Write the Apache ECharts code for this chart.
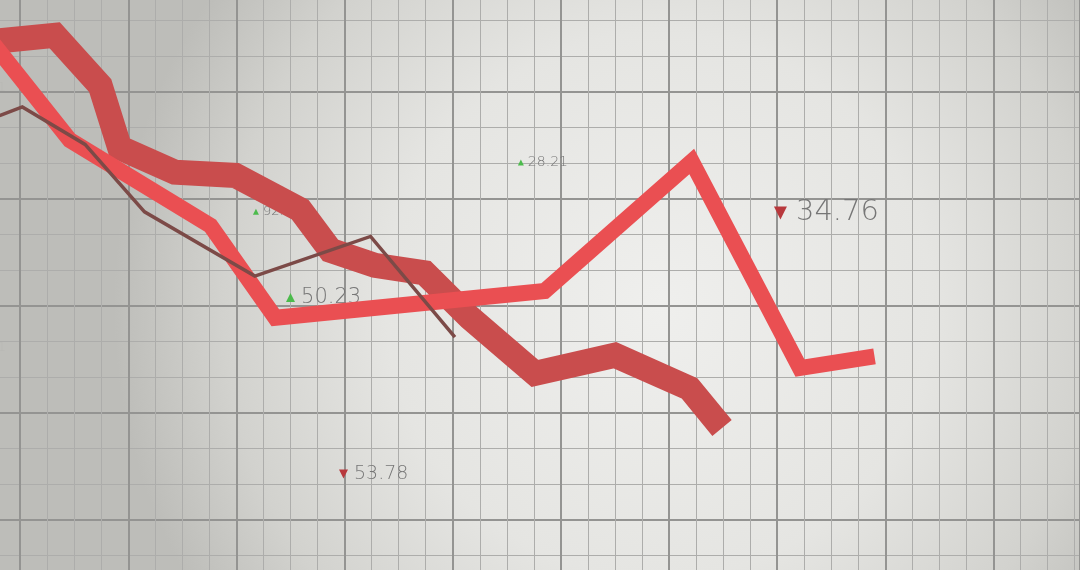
<!DOCTYPE html>
<html>
<head>
<meta charset="utf-8">
<script src="https://cdn.jsdelivr.net/npm/echarts@6/dist/echarts.min.js"></script>
<style>
  html, body { margin: 0; padding: 0; width: 1080px; height: 570px; overflow: hidden; position: relative; background: #d8d8d5; }
  #chart { position: absolute; left: -88px; top: -15px; width: 1168px; height: 642px; }
</style>
</head>
<body>
<div id="chart"></div>
<script>
// ---- data (x: session index, y: price level) ----
const bandX   = [7.2, 13.2, 17.4, 19.2, 24.3, 29.9, 35.9, 38.7, 42.8, 47.4, 51.6, 57.6, 65.0, 71.9, 74.9];
const bandY   = [54.7, 55.3, 50.6, 44.8, 42.5, 42.2, 39.0, 35.2, 33.8, 33.1, 28.9, 23.7, 25.4, 22.3, 18.6];

const brightX = [7.2, 14.6, 27.6, 33.6, 58.5, 72.1, 82.1, 89.0];
const brightY = [54.9, 45.5, 37.5, 28.9, 31.4, 43.5, 24.2, 25.3];

const thinX   = [8.1, 10.2, 16.0, 21.5, 31.7, 42.4, 50.2];
const thinY   = [47.8, 48.6, 45.1, 38.8, 32.8, 36.5, 27.1];

const quoteText = ['28.21', '92.41', '50.23', '34.76', '53.78', '41.21', '66.21'];
const quoteX    = [56.3, 31.8, 35.0, 80.3, 39.9, 4.6, 4.6];
const quoteY    = [43.4, 38.8, 30.8, 38.7, 14.3, 26.1, 50.4];
const quoteUp   = [true, true, true, false, false, true, true];

// ---- styling (not data) ----
const quoteFont = [14, 13, 21, 29, 19, 13, 13];
const quoteAlpha = [1, 1, 1, 1, 1, 0.25, 0.25];

const zip = (xs, ys) => xs.map((x, i) => [x, ys[i]]);

const quoteData = quoteText.map((t, i) => ({
  value: [quoteX[i], quoteY[i]],
  symbol: 'triangle',
  symbolRotate: quoteUp[i] ? 0 : 180,
  symbolSize: Math.round(quoteFont[i] * 0.45),
  itemStyle: { color: quoteUp[i] ? '#4cbb4c' : '#b8383c', opacity: quoteAlpha[i] },
  label: {
    show: true,
    position: 'right',
    distance: Math.round(quoteFont[i] * 0.3),
    formatter: t,
    fontSize: quoteFont[i],
    color: 'rgba(118,118,118,' + quoteAlpha[i] + ')',
    fontFamily: 'DejaVu Sans',
    fontWeight: 200
  }
}));

const chart = echarts.init(document.getElementById('chart'), null, { renderer: 'canvas' });

const axisCommon = {
  type: 'value',
  interval: 10,
  axisLine: { show: false },
  axisTick: { show: false },
  axisLabel: { show: false },
  splitLine: { show: true, lineStyle: { color: '#949492', width: 2 } },
  minorSplitLine: { show: true, lineStyle: { color: '#adadab', width: 1 } }
};

chart.setOption({
  animation: false,
  backgroundColor: {
    type: 'radial', x: 0.64, y: 0.5, r: 0.85,
    colorStops: [
      { offset: 0, color: '#efefed' },
      { offset: 0.5, color: '#e5e5e2' },
      { offset: 0.8, color: '#d2d2ce' },
      { offset: 1, color: '#bdbdb9' }
    ]
  },
  grid: { left: 0, right: 0, top: 0, bottom: 0 },
  xAxis: Object.assign({}, axisCommon, {
    min: 0, max: 108,
    minorTick: { show: false, splitNumber: 4 }
  }),
  yAxis: Object.assign({}, axisCommon, {
    min: 0, max: 60,
    minorTick: { show: false, splitNumber: 3 }
  }),
  series: [
    {
      type: 'scatter', z: 1,
      data: quoteData
    },
    {
      type: 'line', z: 2, symbol: 'none',
      data: zip(bandX, bandY),
      lineStyle: { color: '#c94d4d', width: 25, join: 'miter', cap: 'butt', miterLimit: 4 }
    },
    {
      type: 'line', z: 3, symbol: 'none',
      data: zip(brightX, brightY),
      lineStyle: { color: '#ea4f52', width: 16, join: 'miter', cap: 'butt', miterLimit: 4 }
    },
    {
      type: 'line', z: 4, symbol: 'none',
      data: zip(thinX, thinY),
      lineStyle: { color: '#7c4a47', width: 3.5, join: 'miter', cap: 'butt' }
    }
  ]
});
</script>
</body>
</html>
